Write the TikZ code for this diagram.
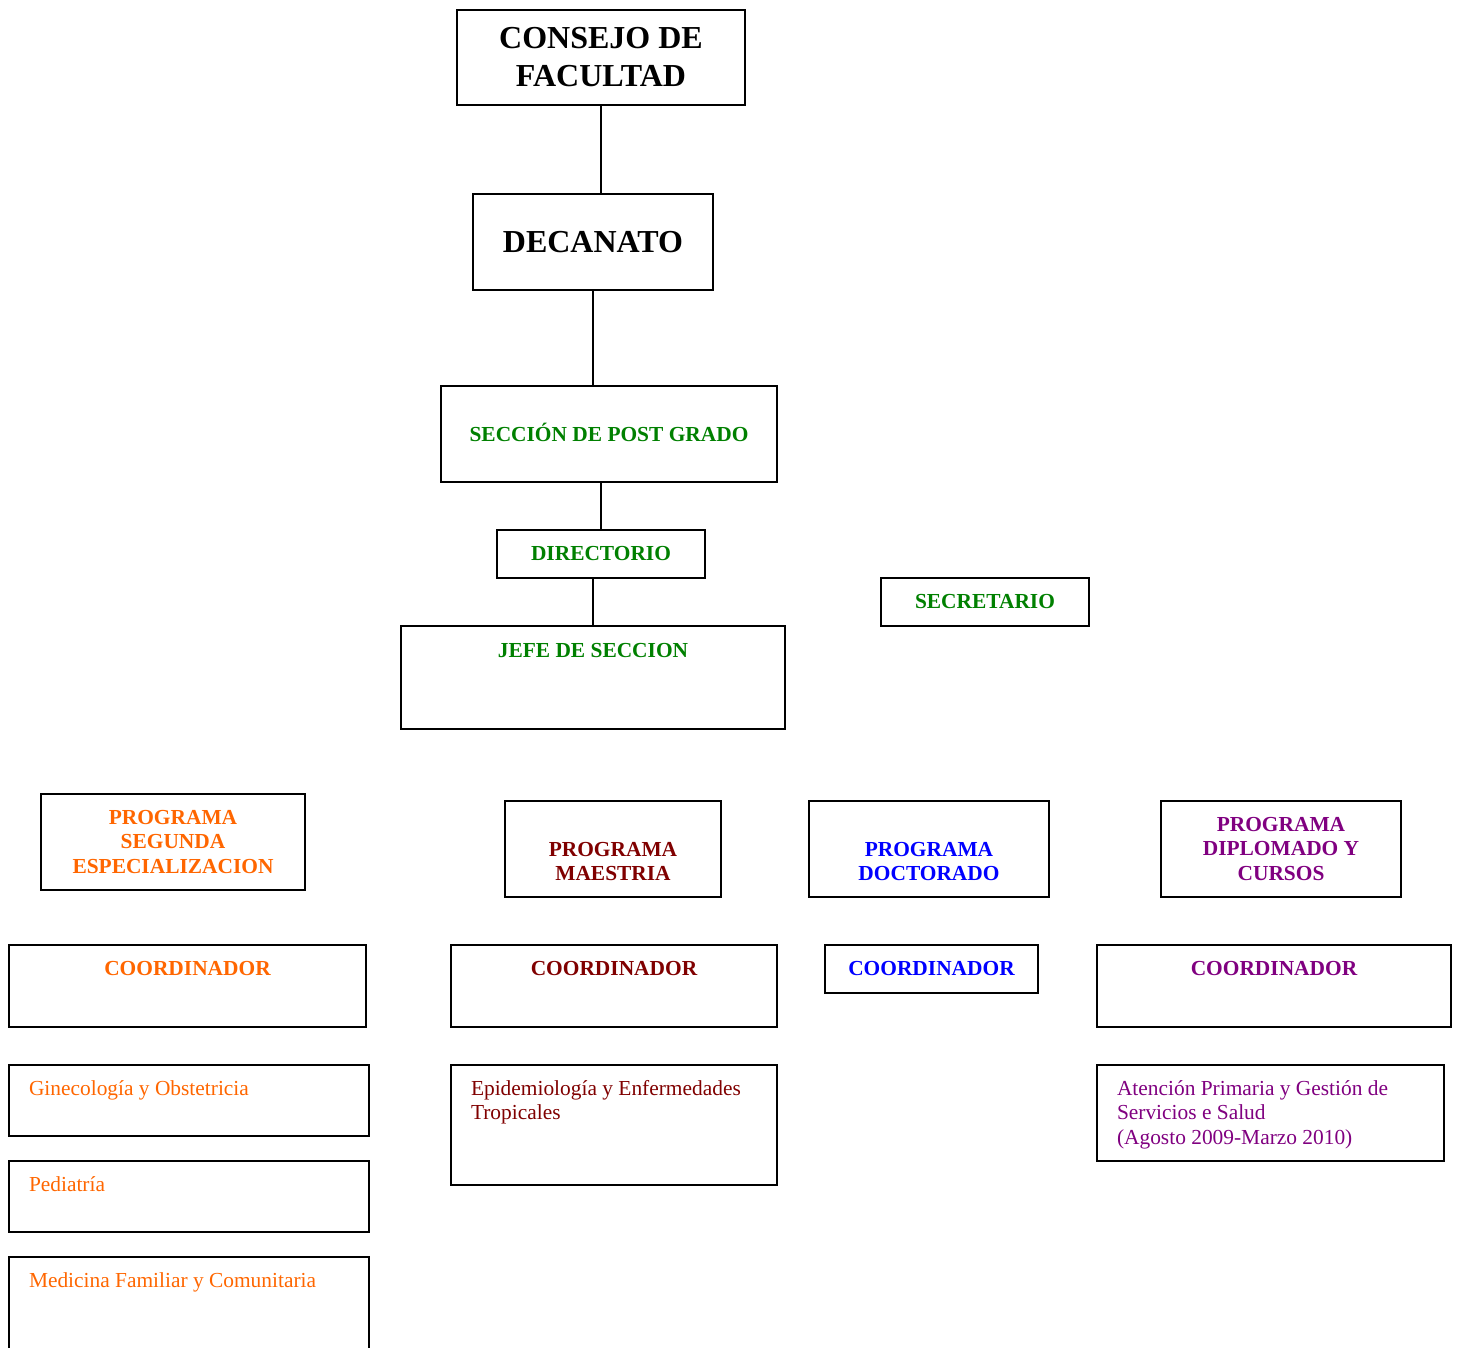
\documentclass[tikz,border=0pt]{standalone}
\usepackage{fontspec}
\setmainfont{Liberation Serif}
\usepackage{tikz}
\usetikzlibrary{positioning}
\definecolor{postgreen}{RGB}{0, 128, 0}
\definecolor{segorange}{RGB}{255, 102, 0}
\definecolor{maered}{RGB}{128, 0, 0}
\definecolor{docblue}{RGB}{0, 0, 255}
\definecolor{diplpurple}{RGB}{128, 0, 128}
\newcommand{\bigfont}{\fontsize{16}{19}\selectfont\bfseries}
\newcommand{\headfont}{\fontsize{10.7}{12.3}\selectfont\bfseries}
\newcommand{\bodyfont}{\fontsize{10.7}{12.3}\selectfont}

\begin{document}
\begin{tikzpicture}[
    x=1pt, y=-1pt,
    box/.style={rectangle, draw=black, line width=1pt, anchor=north west, inner sep=0pt},
    big/.style={box, font=\bigfont, align=flush center},
    head/.style={box, font=\headfont},
    txt/.style={box, font=\bodyfont, align=flush left, inner xsep=10pt},
    link/.style={line width=1pt}
]
\useasboundingbox (0,0) rectangle (729,674);

% upper chain
\node (consejo) [big, minimum width=144pt, minimum height=47.5pt] at (228,4.5) {CONSEJO DE\\FACULTAD};
\node (decanato) [big, minimum width=120pt, minimum height=48pt] at (236,96.5) {DECANATO};
\node (seccion) [head, text=postgreen, minimum width=168pt, minimum height=48pt, text height=7.1pt, text depth=0pt] at (220,192.5) {SECCIÓN DE POST GRADO};
\node (directorio) [head, text=postgreen, minimum width=104pt, minimum height=24pt] at (248,264.5) {DIRECTORIO};
\node (jefe) [head, text=postgreen, minimum width=192pt, text height=15.5pt, text depth=36pt] at (200,312.5) {JEFE DE SECCION};
\node (secretario) [head, text=postgreen, minimum width=104pt, minimum height=24pt] at (440,288.5) {SECRETARIO};

% programas
\node (progseg) [head, text=segorange, align=flush center, text width=120pt, minimum width=132pt, minimum height=48pt] at (20,396.5) {PROGRAMA\\SEGUNDA\\ESPECIALIZACION};
\node (progmae) [head, text=maered, align=flush center, text width=96pt, minimum width=108pt, text height=27.5pt, text depth=20.5pt] at (252,400) {PROGRAMA\\MAESTRIA};
\node (progdoc) [head, text=docblue, align=flush center, text width=108pt, minimum width=120pt, text height=27.5pt, text depth=20.5pt] at (404,400) {PROGRAMA\\DOCTORADO};
\node (progdipl) [head, text=diplpurple, align=flush center, text width=108pt, minimum width=120pt, minimum height=48pt] at (580,400) {PROGRAMA\\DIPLOMADO Y\\CURSOS};

% coordinadores
\node (coordseg) [head, text=segorange, minimum width=178.5pt, text height=15pt, text depth=26pt] at (4,472) {COORDINADOR};
\node (coordmae) [head, text=maered, minimum width=163pt, text height=15pt, text depth=26pt] at (225,472) {COORDINADOR};
\node (coorddoc) [head, text=docblue, minimum width=106.5pt, minimum height=24pt] at (412,472) {COORDINADOR};
\node (coorddipl) [head, text=diplpurple, minimum width=177pt, text height=15pt, text depth=26pt] at (548,472) {COORDINADOR};

% especialidades
\node (gineco) [txt, text=segorange, text width=160pt, text height=15pt, text depth=20.5pt] at (4,532) {Ginecología y Obstetricia};
\node (pediatria) [txt, text=segorange, text width=160pt, text height=15pt, text depth=20.5pt] at (4,580) {Pediatría};
\node (medicina) [txt, text=segorange, text width=160pt, text height=15pt, text depth=35pt] at (4,628) {Medicina Familiar y Comunitaria};
\node (epidemio) [txt, text=maered, text width=143pt, text height=15pt, text depth=45pt] at (225,532) {Epidemiología y Enfermedades\\Tropicales};
\node (atencion) [txt, text=diplpurple, text width=153.5pt, text height=15pt, text depth=33pt] at (548,532) {Atención Primaria y Gestión de\\Servicios e Salud\\(Agosto 2009-Marzo 2010)};

\draw [link] (consejo.south) -- (consejo.south |- decanato.north);
\draw [link] (decanato.south) -- (decanato.south |- seccion.north);
\draw [link] (directorio.north |- seccion.south) -- (directorio.north);
\draw [link] (jefe.north |- directorio.south) -- (jefe.north);

\end{tikzpicture}
\end{document}
